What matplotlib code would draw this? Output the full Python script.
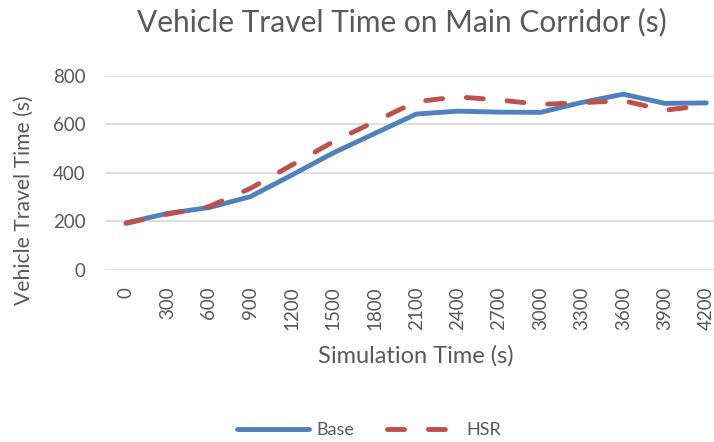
import matplotlib
matplotlib.use("Agg")
import matplotlib.pyplot as plt
import numpy as np

categories = ["0", "300", "600", "900", "1200", "1500", "1800", "2100", "2400",
              "2700", "3000", "3300", "3600", "3900", "4200"]
base = [194, 233, 257, 302, 391, 482, 562, 642, 654, 650, 649, 690, 724, 686, 688]
hsr = [192, 230, 261, 336, 432, 528, 611, 693, 713, 700, 682, 689, 697, 658, 678]
yticks = [0, 200, 400, 600, 800]

plt.rcParams['font.family'] = ['Lato', 'DejaVu Sans']
gray = '#595959'

W, H = 714, 442
fig = plt.figure(figsize=(W / 100, H / 100), dpi=100)
left, right = 105.3, 727.0
top, bottom = 75.7, 270.0
ax = fig.add_axes([left / W, 1 - bottom / H, (right - left) / W, (bottom - top) / H])

x = np.arange(len(categories))
lw = 3.5
ax.plot(x, base, color='#4F81BD', lw=lw, solid_capstyle='round', solid_joinstyle='round', label='Base')
ax.plot(x, hsr, color='#C0504D', lw=lw, dashes=(3.5, 4.9), dash_capstyle='round', label='HSR')

ax.set_xlim(-0.5, len(categories) - 0.5)
ax.set_ylim(0, 800)
ax.set_yticks(yticks)
ax.set_yticklabels([str(v) for v in yticks], fontsize=13.5, color=gray)
ax.set_xticks(x)
ax.set_xticklabels(categories, rotation=90, fontsize=13.5, color=gray)
ax.tick_params(length=0)
ax.tick_params(axis='x', pad=12)
ax.tick_params(axis='y', pad=14)
ax.grid(axis='y', color='#D9D9D9', lw=1.2)
ax.set_axisbelow(True)
for s in ax.spines.values():
    s.set_visible(False)

fig.text(402 / W, 1 - 22 / H, "Vehicle Travel Time on Main Corridor (s)", ha='center', va='center',
         fontsize=21.5, color=gray)
fig.text(416 / W, 1 - 356 / H, "Simulation Time (s)", ha='center', va='center', fontsize=17, color=gray)
fig.text(24 / W, 1 - 200 / H, "Vehicle Travel Time (s)", ha='center', va='center', rotation=90,
         fontsize=15.2, color=gray)

leg = fig.legend(loc='center', bbox_to_anchor=(369 / W, 1 - 430 / H), ncol=2, frameon=False,
                 fontsize=13, handlelength=4.0, columnspacing=1.8, handletextpad=0.4)
for t in leg.get_texts():
    t.set_color(gray)

fig.savefig("out.png", dpi=100)
